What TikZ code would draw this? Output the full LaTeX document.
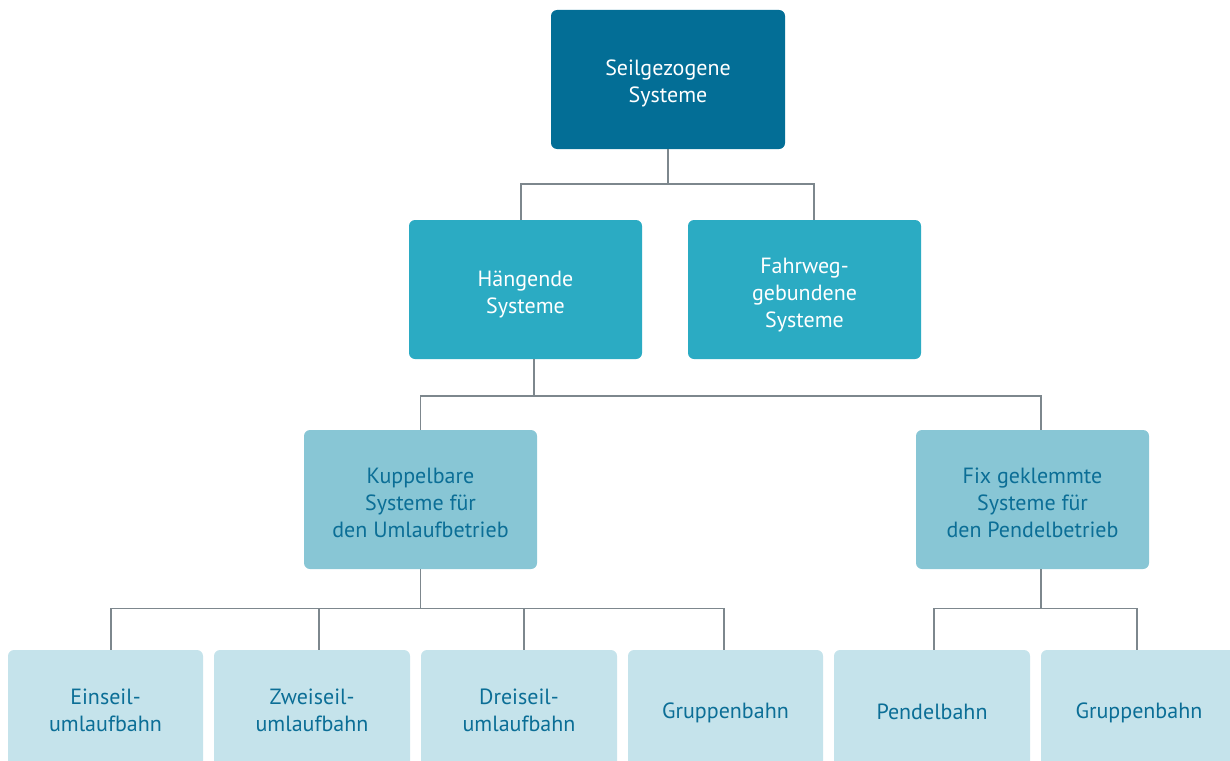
\documentclass[tikz,border=0pt]{standalone}
\usepackage{fontspec}
\setmainfont{PT Sans}
\definecolor{cDark}{HTML}{036E96}
\definecolor{cMid}{HTML}{2BABC3}
\definecolor{cLight}{HTML}{88C6D5}
\definecolor{cText}{HTML}{0B6E96}
\definecolor{cPale}{HTML}{C5E3EB}
\definecolor{cLine}{HTML}{7D878D}
\newcommand{\myup}[1]{\rule{0pt}{#1pt}}
\tikzset{
  box/.style={rounded corners=6pt, align=center, inner sep=0pt, font=\fontsize{22}{27}\selectfont},
  lvlA/.style={box, fill=cDark, text=white, minimum width=234pt, minimum height=139pt},
  lvlB/.style={box, fill=cMid, text=white, minimum width=233pt, minimum height=139pt},
  lvlC/.style={box, fill=cLight, text=cText, minimum width=233pt, minimum height=139pt},
  lvlD/.style={box, fill=cPale, text=cText, minimum width=196pt, minimum height=120pt},
  conn/.style={draw=cLine, line width=1.4pt}
}
\begin{document}
\begin{tikzpicture}[x=1pt,y=-1pt]
\useasboundingbox (0,0) rectangle (1230,760);
\clip (0,0) rectangle (1230,760);
\node[lvlA] (top) at (668,79.5) {\myup{24}Seilgezogene\\Systeme};
\node[lvlB] (hang) at (525.5,289.5) {\myup{25}Hängende\\Systeme};
\node[lvlB] (fahr) at (804.5,289.5) {\myup{26}Fahrweg-\\gebundene\\Systeme};
\node[lvlC] (kupp) at (420.5,499.5) {\myup{22}Kuppelbare\\Systeme für\\den Umlaufbetrieb};
\node[lvlC] (fix) at (1032.5,499.5) {\myup{22}Fix geklemmte\\Systeme für\\den Pendelbetrieb};
\node[lvlD, minimum width=195pt] (ein) at (105.5,710) {Einseil-\\umlaufbahn};
\node[lvlD] (zwei) at (312,710) {Zweiseil-\\umlaufbahn};
\node[lvlD] (drei) at (519,710) {Dreiseil-\\umlaufbahn};
\node[lvlD, minimum width=195pt] (grA) at (725.5,710) {\myup{22}Gruppenbahn};
\node[lvlD] (pend) at (932,710) {\myup{19}Pendelbahn};
\node[lvlD] (grB) at (1139,710) {\myup{22}Gruppenbahn};
% level 1 -> 2
\coordinate (j1) at (668,184);
\draw[conn] (top.south) -- (j1);
\draw[conn] ([xshift=-4.5pt]hang.north) |- (j1) -| ([xshift=9.5pt]fahr.north);
% level 2 -> 3
\coordinate (j2) at (534,396);
\draw[conn] ([xshift=8.5pt]hang.south) -- (j2);
\draw[conn] (kupp.north) |- (j2) -| ([xshift=8.5pt]fix.north);
% level 3 -> 4 left
\coordinate (j3) at (420.5,608.5);
\draw[conn] (kupp.south) -- (j3);
\draw[conn] ([xshift=5.5pt]ein.north) |- (j3) -| ([xshift=-1.5pt]grA.north);
\draw[conn] ([xshift=7pt]zwei.north) -- ([xshift=7pt]zwei.north |- j3);
\draw[conn] ([xshift=5pt]drei.north) -- ([xshift=5pt]drei.north |- j3);
% level 3 -> 4 right
\coordinate (j4) at (1041,608.5);
\draw[conn] ([xshift=8.5pt]fix.south) -- (j4);
\draw[conn] ([xshift=2pt]pend.north) |- (j4) -| ([xshift=-2pt]grB.north);
\end{tikzpicture}
\end{document}
